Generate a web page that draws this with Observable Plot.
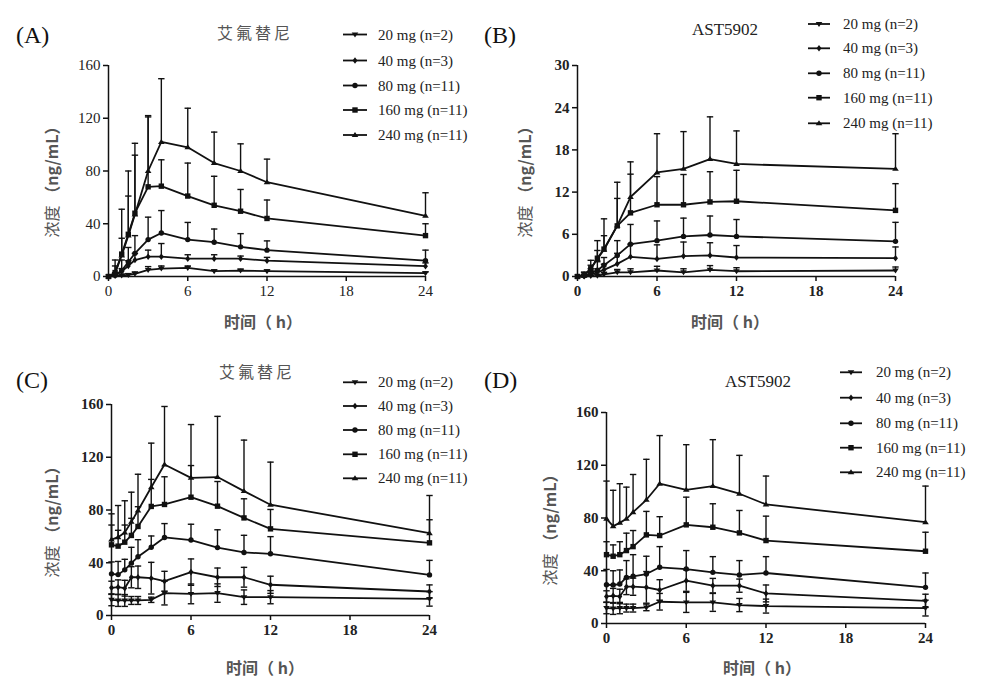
<!DOCTYPE html>
<html><head><meta charset="utf-8">
<script src="https://cdn.jsdelivr.net/npm/d3@7"></script>
<script src="https://cdn.jsdelivr.net/npm/@observablehq/plot@0.6"></script>
<style>
body{margin:0;background:#fff;}
#wrap{position:relative;width:982px;height:695px;overflow:hidden;background:#fff;}
#wrap svg.plot{position:absolute;}
#overlay{position:absolute;left:0;top:0;pointer-events:none;}
</style>
</head><body>
<div id="wrap"></div>
<script>
// ---- data ----
const times = [0, 0.5, 1, 1.5, 2, 3, 4, 6, 8, 10, 12, 24];
const doses = ["20 mg (n=2)", "40 mg (n=3)", "80 mg (n=11)", "160 mg (n=11)", "240 mg (n=11)"];
const xTicks = [0, 6, 12, 18, 24];
const yTicksA = [0, 40, 80, 120, 160];
const yTicksB = [0, 6, 12, 18, 24, 30];
const titles = ["艾氟替尼", "AST5902", "艾氟替尼", "AST5902"];
const tags = ["(A)", "(B)", "(C)", "(D)"];
const yLabel = ["浓度", "（ng/mL）"];
const xLabel = "时间（ h）";

// Panel A: 艾氟替尼 (single dose) mean / SD
const meanA = [
  [0, 0.3, 0.8, 1.2, 2, 5, 6, 6.5, 4, 4.5, 4, 2.5],
  [0, 1, 4, 8, 12.5, 15, 15, 13.5, 13.5, 13.5, 12, 7.8],
  [0, 1, 4.5, 11, 17.5, 28, 33, 28, 26, 22.5, 20, 12],
  [0, 3, 17, 32, 48, 68, 68.5, 61, 54, 49.5, 44, 31],
  [0, 2.5, 16, 31, 47, 80, 102, 98, 86, 80, 71.5, 46]
];
const sdA = [
  [0, 0.5, 1, 1, 1.5, 2.5, 2, 1.5, 1, 1, 1, 1],
  [0, 1, 2, 4, 5, 5, 10, 3, 3, 2, 2.5, 2.5],
  [0, 2, 8, 11, 13.5, 17, 17, 13, 10, 10, 7, 8],
  [0, 5, 12, 29, 44, 53, 20, 25, 22, 16.5, 14, 9],
  [0, 10, 35, 49, 54, 42, 48, 29.6, 23.5, 20.6, 17.5, 17.5]
];
// Panel B: AST5902 (single dose)
const meanB = [
  [0, 0.02, 0.05, 0.1, 0.3, 0.6, 0.6, 0.85, 0.6, 0.95, 0.75, 0.85],
  [0, 0.05, 0.3, 0.6, 0.95, 1.8, 2.8, 2.5, 2.9, 3.0, 2.7, 2.6],
  [0, 0.1, 0.5, 0.9, 1.6, 3.0, 4.6, 5.1, 5.7, 5.9, 5.7, 5.0],
  [0, 0.2, 1.1, 2.6, 3.9, 7.2, 9.05, 10.2, 10.2, 10.6, 10.7, 9.4],
  [0, 0.15, 1.1, 2.5, 3.8, 7.25, 11.3, 14.8, 15.3, 16.7, 16.0, 15.3]
];
const sdB = [
  [0, 0.05, 0.1, 0.2, 0.3, 0.4, 0.5, 0.6, 0.5, 0.6, 0.5, 0.5],
  [0, 0.1, 0.3, 0.5, 0.8, 1.5, 1.8, 2.0, 2.0, 1.8, 1.7, 1.6],
  [0, 0.2, 0.6, 1.2, 1.1, 2.1, 2.8, 2.8, 2.6, 2.7, 2.4, 2.7],
  [0, 0.4, 0.5, 1.1, 1.9, 3.9, 5.5, 4.0, 4.3, 4.3, 4.4, 3.8],
  [0, 0.45, 1.2, 2.6, 4.4, 6.15, 5.0, 5.5, 5.3, 6.0, 4.7, 5.0]
];
// Panel C: 艾氟替尼 (multiple dose)
const meanC = [
  [11.9, 11.4, 11.4, 11.4, 11.4, 11.9, 17, 16.4, 17, 13.9, 13.9, 12.6],
  [21, 21.5, 20.7, 29, 29, 28.3, 26, 32.9, 29, 29, 23.3, 18.2],
  [31.6, 31, 34.6, 39.7, 44.5, 51.8, 59.2, 57.2, 51.5, 47.8, 46.8, 30.8],
  [53.6, 52.6, 55.6, 60.7, 67.5, 82.7, 84.2, 89.7, 82.9, 74, 65.7, 55.1],
  [57.6, 59.4, 63, 71, 79.6, 97.3, 114.5, 104.4, 105, 94.3, 84, 62.4]
];
const sdC = [
  [4.5, 4.5, 4.5, 3, 3, 2, 9, 7.5, 7, 5.5, 5, 5.5],
  [5, 5.5, 6, 8, 8.5, 12, 7.5, 10, 7, 7.5, 6.5, 5],
  [9, 10, 8, 12, 13, 8.5, 10.5, 12, 13.5, 13, 13, 11],
  [15, 12, 13, 13, 15, 20.5, 21, 24, 18.7, 14.5, 14.7, 17.5],
  [19.5, 24, 24, 22.5, 27.5, 33.4, 44, 40.4, 46, 38.7, 32.3, 28.6]
];
// Panel D: AST5902 (multiple dose)
const meanD = [
  [11.7, 11.4, 11.7, 11.7, 11.7, 12.2, 16.5, 16, 16, 14, 13.2, 11.7],
  [20.5, 21, 20.5, 27.9, 27.9, 27.4, 25.4, 32.5, 28.7, 28.7, 22.8, 17.2],
  [29.4, 29.2, 29.9, 35, 35.8, 37.5, 42.6, 41.3, 38.8, 36.8, 38.3, 27.4],
  [52.2, 51, 52.2, 55.3, 58.3, 67.2, 66.7, 74.8, 73, 68.7, 62.9, 54.8],
  [79.4, 73.8, 76.3, 79.4, 84.4, 93.8, 106, 101.4, 104.2, 98.4, 90.3, 76.8]
];
const sdD = [
  [4.3, 4.5, 4.3, 3, 3, 2.5, 6.3, 7.6, 6.8, 5, 5.3, 6],
  [4.3, 5.6, 5.5, 6, 6.5, 12, 7.8, 8.1, 5.5, 5, 6.4, 5],
  [11.6, 10.8, 10.7, 12.7, 16.4, 13.5, 15.7, 14, 11.9, 10.9, 12.4, 10.9],
  [9.8, 8.6, 9.8, 13.2, 12.2, 17.8, 14.3, 21, 17.8, 17, 18.5, 14.4],
  [28.6, 27.2, 29.7, 24, 28.6, 30.7, 36.5, 34.2, 35.2, 29.1, 21.5, 27.4]
];

// ---- symbols ----
const downTri = {draw(ctx, size){ const r = Math.sqrt(size/Math.PI)*1.1; ctx.moveTo(-r, -r*0.6); ctx.lineTo(r, -r*0.6); ctx.lineTo(0, r*0.9); ctx.closePath(); }};
const upTri = {draw(ctx, size){ const r = Math.sqrt(size/Math.PI)*1.1; ctx.moveTo(-r, r*0.6); ctx.lineTo(r, r*0.6); ctx.lineTo(0, -r*0.9); ctx.closePath(); }};
const diamond = {draw(ctx, size){ const r = Math.sqrt(size/Math.PI)*1.1; ctx.moveTo(0,-r); ctx.lineTo(r*0.75,0); ctx.lineTo(0,r); ctx.lineTo(-r*0.75,0); ctx.closePath(); }};
const circle = {draw(ctx, size){ const r = Math.sqrt(size/Math.PI)*0.9; ctx.moveTo(r,0); ctx.arc(0,0,r,0,2*Math.PI); }};
const square = {draw(ctx, size){ const r = Math.sqrt(size/Math.PI)*0.9; ctx.rect(-r,-r,2*r,2*r); }};
const cap = {draw(ctx, size){ const r = Math.sqrt(size/Math.PI); ctx.moveTo(-r,0); ctx.lineTo(r,0); }};
const seriesSymbols = [downTri, diamond, circle, square, upTri];

// ---- layout ----
const panels = [
  {mean: meanA, sd: sdA, yMax: 160, yTicks: yTicksA, both: [false,false,false,false,false], bold: false,
   left: 0, top: 0, w: 490, h: 340, mL: 108, mR: 65, mT: 65, mB: 64,
   tagX: 16, tagY: 43, titleX: 255, titleY: 39, lgLine: [343, 367], lgText: 378, lgY: [34.5, 60.5, 85.5, 110, 135],
   yLabX: 58, yLabY: 178, xLabX: 263, xLabY: 328},
  {mean: meanB, sd: sdB, yMax: 30, yTicks: yTicksB, both: [false,false,false,false,false], bold: true,
   left: 490, top: 0, w: 492, h: 340, mL: 87, mR: 87, mT: 65, mB: 64,
   tagX: 484, tagY: 43, titleX: 725, titleY: 35, lgLine: [808, 830], lgText: 843, lgY: [24, 48.3, 73.3, 97.7, 123.3],
   yLabX: 531, yLabY: 178, xLabX: 730, xLabY: 328},
  {mean: meanC, sd: sdC, yMax: 160, yTicks: yTicksA, both: [true,true,false,false,false], bold: true,
   left: 0, top: 340, w: 490, h: 355, mL: 111, mR: 61, mT: 64, mB: 80,
   tagX: 16, tagY: 388, titleX: 257, titleY: 378, lgLine: [343, 367], lgText: 378, lgY: [382.3, 406, 430, 454.3, 478.3],
   yLabX: 58, yLabY: 518, xLabX: 265, xLabY: 674},
  {mean: meanD, sd: sdD, yMax: 160, yTicks: yTicksA, both: [true,true,false,false,false], bold: true,
   left: 490, top: 340, w: 492, h: 355, mL: 116, mR: 57, mT: 72, mB: 72,
   tagX: 484, tagY: 388, titleX: 758, titleY: 387, lgLine: [840, 862], lgText: 876, lgY: [372.3, 397.7, 423.3, 447.7, 472.3],
   yLabX: 556, yLabY: 526, xLabX: 762, xLabY: 674}
];

const wrap = document.getElementById("wrap");
const ink = "#111";

panels.forEach((p) => {
  const rows = [];
  p.mean.forEach((arr, s) => arr.forEach((m, i) => {
    const sd = p.sd[s][i];
    rows.push({s, t: times[i], m, hi: m + sd, lo: p.both[s] ? Math.max(0, m - sd) : m, both: p.both[s], sd});
  }));
  const bars = rows.filter(d => d.sd > 0);
  const marks = [
    Plot.ruleX(bars, {x: "t", y1: "lo", y2: "hi", stroke: ink, strokeWidth: 1.4}),
    Plot.dot(bars, {x: "t", y: "hi", symbol: cap, r: 3.2, stroke: ink, fill: "none", strokeWidth: 1.4}),
    Plot.dot(bars.filter(d => d.both), {x: "t", y: "lo", symbol: cap, r: 3.2, stroke: ink, fill: "none", strokeWidth: 1.4}),
    Plot.line(rows, {x: "t", y: "m", z: "s", stroke: ink, strokeWidth: 1.8}),
  ];
  seriesSymbols.forEach((sym, s) => {
    marks.push(Plot.dot(rows.filter(d => d.s === s), {x: "t", y: "m", symbol: sym, r: 3, fill: ink, stroke: "none"}));
  });
  marks.push(
    Plot.ruleX([0], {y1: 0, y2: p.yMax, stroke: ink, strokeWidth: 1.5}),
    Plot.ruleY([0], {x1: 0, x2: 24, stroke: ink, strokeWidth: 1.5}),
    Plot.axisX({ticks: xTicks, tickSize: 5, tickPadding: 4, label: null, stroke: ink, strokeWidth: 1.5}),
    Plot.axisY({ticks: p.yTicks, tickSize: 5, tickPadding: 3, label: null, stroke: ink, strokeWidth: 1.5})
  );
  const chart = Plot.plot({
    width: p.w, height: p.h,
    marginLeft: p.mL, marginRight: p.mR, marginTop: p.mT, marginBottom: p.mB,
    x: {domain: [0, 24]},
    y: {domain: [0, p.yMax]},
    style: {fontFamily: "'Liberation Serif', serif", fontSize: "15px", fontWeight: p.bold ? "bold" : "normal", color: "#222", background: "transparent", overflow: "visible"},
    marks
  });
  chart.classList.add("plot");
  chart.style.left = p.left + "px";
  chart.style.top = p.top + "px";
  wrap.appendChild(chart);
});

// ---- overlay: tags, titles, legends, axis labels ----
const ov = d3.select(wrap).append("svg").attr("id", "overlay").attr("width", 982).attr("height", 695);
panels.forEach((p, k) => {
  ov.append("text").attr("x", p.tagX).attr("y", p.tagY).text(tags[k])
    .attr("font-family", "'Liberation Serif', serif").attr("font-size", 24).attr("fill", ink);
  ov.append("text").attr("x", p.titleX).attr("y", p.titleY).attr("text-anchor", "middle").text(titles[k])
    .attr("font-family", k % 2 ? "'Liberation Serif', serif" : "'Noto Sans CJK SC', sans-serif")
    .attr("letter-spacing", k % 2 ? 0 : 3)
    .attr("font-size", k % 2 ? 17 : 16).attr("fill", k % 2 ? "#222" : "#555");
  doses.forEach((label, s) => {
    const y = p.lgY[s];
    ov.append("line").attr("x1", p.lgLine[0]).attr("x2", p.lgLine[1]).attr("y1", y).attr("y2", y)
      .attr("stroke", ink).attr("stroke-width", 1.8);
    ov.append("path").attr("d", d3.symbol(seriesSymbols[s], Math.PI * 9)())
      .attr("transform", `translate(${(p.lgLine[0] + p.lgLine[1]) / 2},${y})`).attr("fill", ink);
    ov.append("text").attr("x", p.lgText).attr("y", y + 5).text(label)
      .attr("font-family", "'Liberation Serif', serif").attr("font-size", 15).attr("fill", "#222");
  });
  const yl = ov.append("text").attr("transform", `translate(${p.yLabX},${p.yLabY}) rotate(-90)`)
    .attr("text-anchor", "middle").attr("font-size", 16).attr("fill", "#555");
  yl.append("tspan").attr("font-family", "'Noto Sans CJK SC', sans-serif").text(yLabel[0] + " ");
  yl.append("tspan").attr("font-family", "'Noto Sans CJK SC', sans-serif").attr("font-weight", "bold").text(yLabel[1]);
  ov.append("text").attr("x", p.xLabX).attr("y", p.xLabY).attr("text-anchor", "middle").text(xLabel)
    .attr("font-family", "'Noto Sans CJK SC', sans-serif").attr("font-size", 16).attr("font-weight", "bold").attr("fill", "#555");
});
</script>
</body></html>
